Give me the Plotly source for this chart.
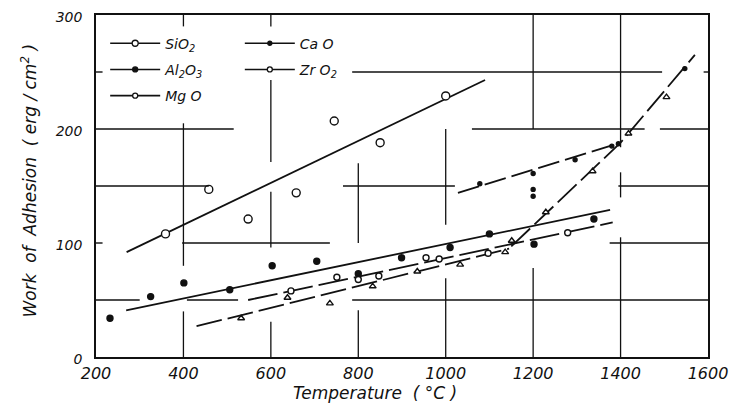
import plotly.graph_objects as go

# ---------------- data ----------------
SIO2_T = [359, 458, 548, 658, 745, 850, 1000]
SIO2_V = [108, 147, 121, 144, 207, 188, 229]
SIO2_FIT_T = [270, 1090]
SIO2_FIT_V = [92, 243]

AL2O3_T = [232, 325, 401, 506, 603, 705, 800, 899, 1010, 1100, 1202, 1339]
AL2O3_V = [34, 53, 65, 59, 80, 84, 73, 87, 96, 108, 99, 121]
AL2O3_FIT_T = [269, 1376]
AL2O3_FIT_V = [41, 129]

ZRO2_T = [646, 751, 800, 847, 955, 985, 1097, 1279]
ZRO2_V = [58, 70, 68, 71, 87, 86, 91, 109]
ZRO2_FIT_T = [548, 1382]
ZRO2_FIT_V = [50, 118]

MGO_T = [532, 638, 735, 833, 935, 1033, 1136, 1151, 1229, 1336, 1418, 1505]
MGO_V = [34, 52, 47, 62, 75, 81, 92, 102, 127, 163, 196, 228]
MGO_FIT_T = [430, 1145, None, 1150, 1400, 1570]
MGO_FIT_V = [27, 95, None, 97, 188, 265]

CAO_T = [1078, 1200, 1200, 1200, 1296, 1380, 1395, 1547]
CAO_V = [152, 161, 147, 141, 173, 185, 187, 253]
CAO_FIT_T = [1028, 1400]
CAO_FIT_V = [144, 188]

X_TICKS = [200, 400, 600, 800, 1000, 1200, 1400, 1600]
Y_TICKS = [0, 100, 200, 300]

# partial grid segments of the original figure (value, start, end)
H_SEGMENTS = [
    (250, 200, 215), (250, 786, 1495), (250, 1590, 1600),
    (200, 200, 515), (200, 1060, 1455), (200, 1490, 1600),
    (150, 200, 458), (150, 765, 1021), (150, 1395, 1600),
    (100, 200, 215), (100, 397, 735), (100, 1375, 1600),
    (50, 200, 300), (50, 408, 525), (50, 786, 1600),
]
V_SEGMENTS = [
    (400, 0, 40), (400, 80, 205), (400, 290, 300),
    (600, 0, 31), (600, 96, 145), (600, 171, 243), (600, 290, 300),
    (800, 0, 41), (800, 100, 170),
    (1000, 0, 69), (1000, 116, 200),
    (1200, 0, 78), (1200, 200, 300),
    (1400, 0, 105), (1400, 140, 162), (1400, 184, 300),
]

FONT = "DejaVu Sans"
BLACK = "#111111"

fig = go.Figure()

def fit(xs, ys, dash="solid"):
    fig.add_trace(go.Scatter(x=xs, y=ys, mode="lines", showlegend=False,
                             line=dict(color=BLACK, width=1.8, dash=dash),
                             connectgaps=False, hoverinfo="skip"))

fit(SIO2_FIT_T, SIO2_FIT_V)
fit(AL2O3_FIT_T, AL2O3_FIT_V)
fit(ZRO2_FIT_T, ZRO2_FIT_V, dash="30px,6px")
fit(MGO_FIT_T, MGO_FIT_V, dash="26px,6px")
fit(CAO_FIT_T, CAO_FIT_V, dash="22px,6px")

def pts(xs, ys, symbol, size, name, fill="white"):
    fig.add_trace(go.Scatter(
        x=xs, y=ys, mode="markers", showlegend=False, name=name,
        marker=dict(symbol=symbol, size=size, color=fill,
                    line=dict(color=BLACK, width=1.4))))

pts(SIO2_T, SIO2_V, "circle", 8, "SiO2")
pts(AL2O3_T, AL2O3_V, "circle", 6, "Al2O3", fill=BLACK)
pts(ZRO2_T, ZRO2_V, "circle", 6, "ZrO2")
pts(MGO_T, MGO_V, "triangle-up", 6, "MgO")
pts(CAO_T, CAO_V, "circle", 4, "CaO", fill=BLACK)

# legend entries (line + marker), two columns -> two legends
LEG = [
    ("SiO<sub>2</sub>", "circle", 6, "white", "legend"),
    ("Al<sub>2</sub>O<sub>3</sub>", "circle", 5, BLACK, "legend"),
    ("Mg O", "circle", 5, "white", "legend"),
    ("Ca O", "circle", 4, BLACK, "legend2"),
    ("Zr O<sub>2</sub>", "circle", 5, "white", "legend2"),
]
for i, (name, sym, sz, fill, lg) in enumerate(LEG):
    fig.add_trace(go.Scatter(
        x=[None], y=[None], mode="lines+markers", name=name, legend=lg,
        legendgroup="g%d" % i,
        line=dict(color=BLACK, width=1.6),
        marker=dict(symbol=sym, size=sz, color=fill,
                    line=dict(color=BLACK, width=1.3))))

shapes = []
for v, a, b in H_SEGMENTS:
    shapes.append(dict(type="line", xref="x", yref="y", x0=a, x1=b, y0=v, y1=v,
                       line=dict(color=BLACK, width=1.4)))
for t, a, b in V_SEGMENTS:
    shapes.append(dict(type="line", xref="x", yref="y", x0=t, x1=t, y0=a, y1=b,
                       line=dict(color=BLACK, width=1.3)))

LEGFONT = dict(family=FONT, size=14, style="italic", color=BLACK)
legend_common = dict(orientation="v", xanchor="left", yanchor="top",
                     itemwidth=50, bgcolor="rgba(0,0,0,0)", font=LEGFONT,
                     tracegroupgap=5)

fig.update_layout(
    width=737, height=400,
    margin=dict(l=88, r=37, t=7, b=51),
    paper_bgcolor="white", plot_bgcolor="white",
    font=dict(family=FONT, color=BLACK, size=14, style="italic"),
    shapes=shapes,
    showlegend=True,
    legend=dict(x=0.015, y=0.963, **legend_common),
    legend2=dict(x=0.235, y=0.963, **legend_common),
    xaxis=dict(range=[200, 1600], tickvals=X_TICKS, ticktext=[str(v) for v in X_TICKS],
               showgrid=False, zeroline=False, showline=True, mirror=True,
               linecolor=BLACK, linewidth=1.6, ticks="", automargin=False,
               ticklabeloverflow="allow", ticklabelstandoff=1,
               tickfont=dict(family=FONT, size=16, style="italic")),
    yaxis=dict(range=[0, 300], tickvals=Y_TICKS, ticktext=[str(v) for v in Y_TICKS],
               showgrid=False, zeroline=False, showline=True, mirror=True,
               linecolor=BLACK, linewidth=1.6, ticks="", automargin=False,
               ticklabelstandoff=9, ticklabeloverflow="allow", ticklabelshift=2,
               tickfont=dict(family=FONT, size=14, style="italic")),
    annotations=[
        dict(text="Temperature  ( °C )", xref="paper", yref="paper",
             x=0.456, y=-0.104, xanchor="center", yanchor="middle", showarrow=False,
             font=dict(family=FONT, size=17, style="italic", color=BLACK)),
        dict(text="Work  of  Adhesion  ( erg / cm<sup>2</sup> )", xref="paper", yref="paper",
             x=-0.11, y=0.515, xanchor="center", yanchor="middle", showarrow=False,
             textangle=-90,
             font=dict(family=FONT, size=17, style="italic", color=BLACK)),
    ],
)

fig.write_html("out.html")
